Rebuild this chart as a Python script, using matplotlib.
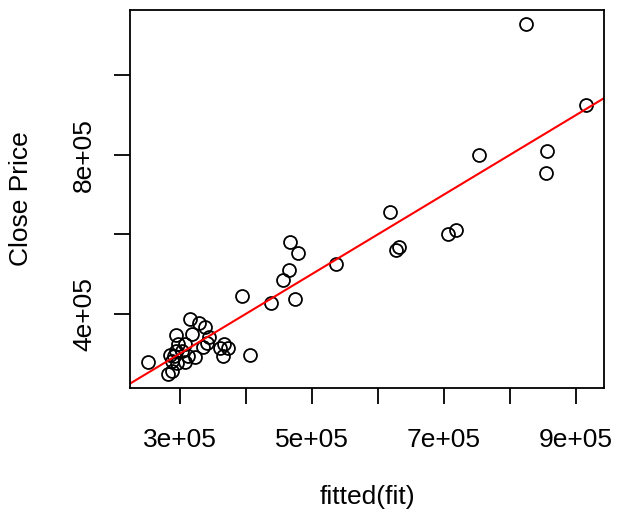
import matplotlib
matplotlib.use("Agg")
import matplotlib.pyplot as plt
import numpy as np

plt.rcParams["font.family"] = ["Liberation Sans", "DejaVu Sans"]

fitted = [825300, 916200, 754100, 857100, 855600, 619200, 719200, 707100,
          631400, 628300, 537400, 467700, 479800, 466200, 455600, 393500,
          438900, 473800, 407100, 251100, 281400, 288900, 314700, 329800,
          338900, 293500, 317700, 343500, 296500, 308600, 334400, 340500,
          366200, 372300, 360200, 364700, 284400, 290500, 322300, 307100,
          295000, 302600, 293500, 311700, 287400]
close = [1129500, 926200, 800700, 810800, 755600, 655200, 610000, 600000,
         567400, 559800, 524700, 579900, 552300, 509700, 484600, 444400,
         426800, 436900, 296400, 278800, 248700, 256200, 386700, 376700,
         366700, 346600, 349100, 341500, 324000, 324000, 316500, 326500,
         324000, 314000, 314000, 294000, 296400, 293900, 291300, 278800,
         276300, 306100, 306100, 293900, 281300]

xticks = [3e5, 4e5, 5e5, 6e5, 7e5, 8e5, 9e5]
xlabels = ["3e+05", "", "5e+05", "", "7e+05", "", "9e+05"]
yticks = [4e5, 6e5, 8e5, 1e6]
ylabels = ["4e+05", "", "8e+05", ""]

fig = plt.figure(figsize=(6.18, 5.16), dpi=100)
ax = fig.add_axes([130/618, 1-388/516, 474/618, 378/516])

x = np.array(fitted)
y = np.array(close)
ax.plot(x, y, "o", mfc="none", mec="black", ms=9.3, mew=1.3)
ax.axline((0, 0), slope=1, color="red", lw=1.5)

# R style 4% padding
xr = x.max() - x.min()
yr = y.max() - y.min()
ax.set_xlim(x.min() - 0.04*xr, x.max() + 0.04*xr)
ax.set_ylim(y.min() - 0.04*yr, y.max() + 0.04*yr)

ax.set_xticks(xticks)
ax.set_xticklabels(xlabels)
ax.set_yticks(yticks)
ax.set_yticklabels(ylabels, rotation=90, va="center")
ax.tick_params(length=11.5, width=1.3, labelsize=19, pad=17)
ax.tick_params(axis="y", pad=13)
for s in ax.spines.values():
    s.set_linewidth(1.3)

ax.set_xlabel("fitted(fit)", fontsize=19, labelpad=24)
ax.set_ylabel("Close Price", fontsize=19, labelpad=28)

fig.savefig("out.png", dpi=100)
